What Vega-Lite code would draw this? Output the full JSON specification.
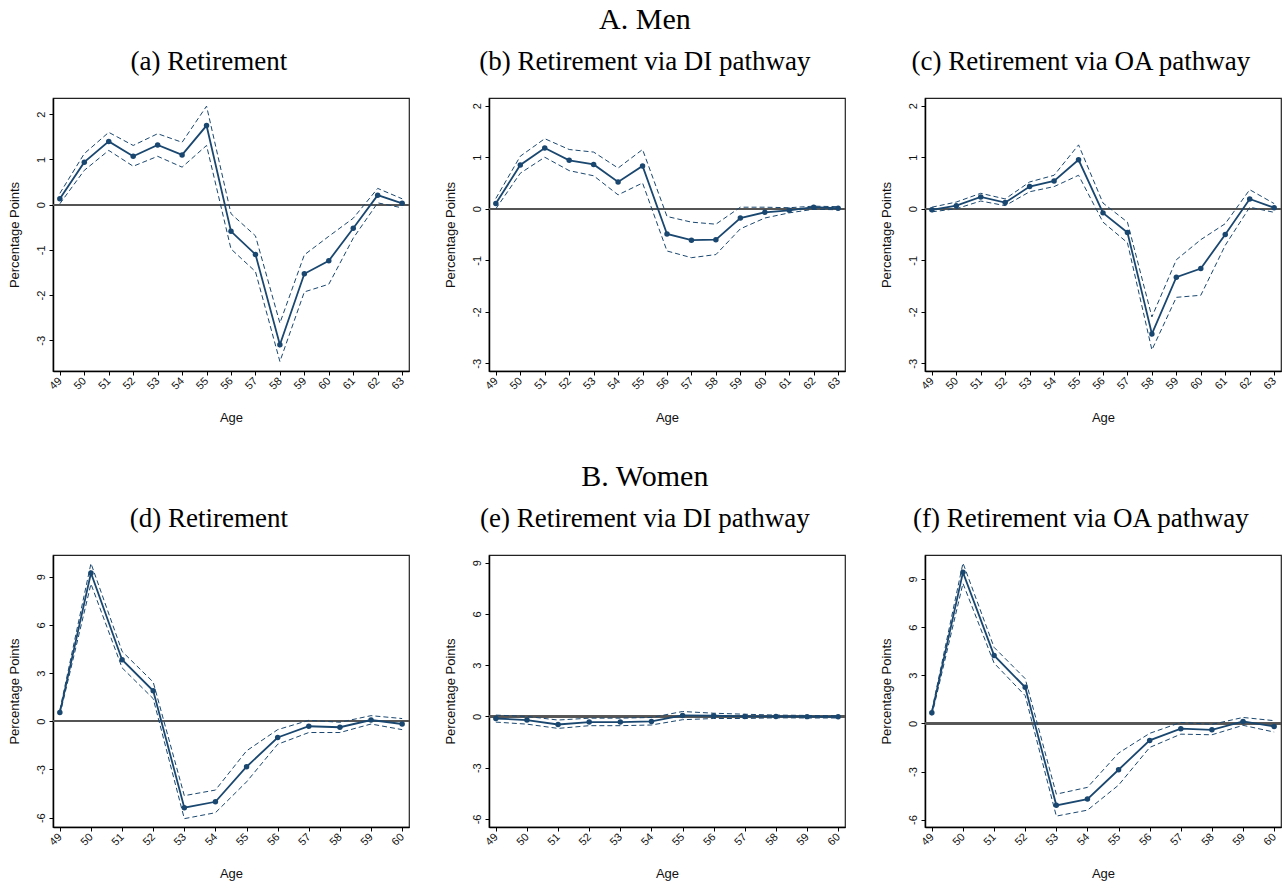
{
  "$schema": "https://vega.github.io/schema/vega-lite/v6.json",
  "background": "white",
  "padding": {"left": 7, "top": 5, "right": 5, "bottom": 5},
  "datasets": {
    "d": [
      {"p": "a", "age": 49, "est": 0.13, "lo": 0.02, "hi": 0.25},
      {"p": "a", "age": 50, "est": 0.94, "lo": 0.76, "hi": 1.13},
      {"p": "a", "age": 51, "est": 1.40, "lo": 1.20, "hi": 1.60},
      {"p": "a", "age": 52, "est": 1.07, "lo": 0.85, "hi": 1.31},
      {"p": "a", "age": 53, "est": 1.32, "lo": 1.07, "hi": 1.57},
      {"p": "a", "age": 54, "est": 1.10, "lo": 0.83, "hi": 1.38},
      {"p": "a", "age": 55, "est": 1.75, "lo": 1.31, "hi": 2.18},
      {"p": "a", "age": 56, "est": -0.59, "lo": -0.98, "hi": -0.20},
      {"p": "a", "age": 57, "est": -1.10, "lo": -1.48, "hi": -0.69},
      {"p": "a", "age": 58, "est": -3.10, "lo": -3.47, "hi": -2.62},
      {"p": "a", "age": 59, "est": -1.53, "lo": -1.93, "hi": -1.11},
      {"p": "a", "age": 60, "est": -1.24, "lo": -1.76, "hi": -0.70},
      {"p": "a", "age": 61, "est": -0.52, "lo": -0.74, "hi": -0.30},
      {"p": "a", "age": 62, "est": 0.21, "lo": 0.04, "hi": 0.36},
      {"p": "a", "age": 63, "est": 0.03, "lo": -0.07, "hi": 0.13},
      {"p": "b", "age": 49, "est": 0.10, "lo": 0.00, "hi": 0.20},
      {"p": "b", "age": 50, "est": 0.85, "lo": 0.69, "hi": 1.02},
      {"p": "b", "age": 51, "est": 1.18, "lo": 1.00, "hi": 1.36},
      {"p": "b", "age": 52, "est": 0.94, "lo": 0.74, "hi": 1.15},
      {"p": "b", "age": 53, "est": 0.86, "lo": 0.64, "hi": 1.10},
      {"p": "b", "age": 54, "est": 0.52, "lo": 0.27, "hi": 0.79},
      {"p": "b", "age": 55, "est": 0.83, "lo": 0.50, "hi": 1.15},
      {"p": "b", "age": 56, "est": -0.49, "lo": -0.82, "hi": -0.15},
      {"p": "b", "age": 57, "est": -0.61, "lo": -0.95, "hi": -0.26},
      {"p": "b", "age": 58, "est": -0.60, "lo": -0.89, "hi": -0.30},
      {"p": "b", "age": 59, "est": -0.18, "lo": -0.39, "hi": 0.03},
      {"p": "b", "age": 60, "est": -0.07, "lo": -0.18, "hi": 0.03},
      {"p": "b", "age": 61, "est": -0.03, "lo": -0.08, "hi": 0.02},
      {"p": "b", "age": 62, "est": 0.03, "lo": -0.01, "hi": 0.05},
      {"p": "b", "age": 63, "est": 0.01, "lo": -0.02, "hi": 0.04},
      {"p": "c", "age": 49, "est": -0.02, "lo": -0.06, "hi": 0.03},
      {"p": "c", "age": 50, "est": 0.06, "lo": 0.00, "hi": 0.13},
      {"p": "c", "age": 51, "est": 0.23, "lo": 0.15, "hi": 0.30},
      {"p": "c", "age": 52, "est": 0.12, "lo": 0.06, "hi": 0.19},
      {"p": "c", "age": 53, "est": 0.43, "lo": 0.33, "hi": 0.52},
      {"p": "c", "age": 54, "est": 0.54, "lo": 0.43, "hi": 0.65},
      {"p": "c", "age": 55, "est": 0.95, "lo": 0.65, "hi": 1.24},
      {"p": "c", "age": 56, "est": -0.08, "lo": -0.26, "hi": 0.11},
      {"p": "c", "age": 57, "est": -0.46, "lo": -0.66, "hi": -0.26},
      {"p": "c", "age": 58, "est": -2.43, "lo": -2.74, "hi": -2.10},
      {"p": "c", "age": 59, "est": -1.33, "lo": -1.72, "hi": -0.99},
      {"p": "c", "age": 60, "est": -1.16, "lo": -1.68, "hi": -0.60},
      {"p": "c", "age": 61, "est": -0.50, "lo": -0.71, "hi": -0.29},
      {"p": "c", "age": 62, "est": 0.19, "lo": 0.03, "hi": 0.37},
      {"p": "c", "age": 63, "est": 0.02, "lo": -0.07, "hi": 0.10},
      {"p": "d", "age": 49, "est": 0.54, "lo": 0.40, "hi": 0.70},
      {"p": "d", "age": 50, "est": 9.23, "lo": 8.55, "hi": 9.83},
      {"p": "d", "age": 51, "est": 3.83, "lo": 3.33, "hi": 4.35},
      {"p": "d", "age": 52, "est": 1.90, "lo": 1.41, "hi": 2.44},
      {"p": "d", "age": 53, "est": -5.38, "lo": -6.06, "hi": -4.63},
      {"p": "d", "age": 54, "est": -5.01, "lo": -5.69, "hi": -4.28},
      {"p": "d", "age": 55, "est": -2.83, "lo": -3.77, "hi": -1.84},
      {"p": "d", "age": 56, "est": -1.01, "lo": -1.43, "hi": -0.52},
      {"p": "d", "age": 57, "est": -0.31, "lo": -0.70, "hi": 0.06},
      {"p": "d", "age": 58, "est": -0.37, "lo": -0.70, "hi": -0.06},
      {"p": "d", "age": 59, "est": 0.08, "lo": -0.17, "hi": 0.35},
      {"p": "d", "age": 60, "est": -0.17, "lo": -0.52, "hi": 0.17},
      {"p": "e", "age": 49, "est": -0.12, "lo": -0.33, "hi": 0.08},
      {"p": "e", "age": 50, "est": -0.21, "lo": -0.45, "hi": 0.00},
      {"p": "e", "age": 51, "est": -0.47, "lo": -0.70, "hi": -0.21},
      {"p": "e", "age": 52, "est": -0.33, "lo": -0.54, "hi": -0.10},
      {"p": "e", "age": 53, "est": -0.33, "lo": -0.54, "hi": -0.10},
      {"p": "e", "age": 54, "est": -0.29, "lo": -0.50, "hi": -0.06},
      {"p": "e", "age": 55, "est": 0.06, "lo": -0.19, "hi": 0.29},
      {"p": "e", "age": 56, "est": 0.04, "lo": -0.12, "hi": 0.19},
      {"p": "e", "age": 57, "est": 0.00, "lo": -0.12, "hi": 0.13},
      {"p": "e", "age": 58, "est": 0.00, "lo": -0.08, "hi": 0.08},
      {"p": "e", "age": 59, "est": -0.01, "lo": -0.09, "hi": 0.06},
      {"p": "e", "age": 60, "est": -0.02, "lo": -0.09, "hi": 0.04},
      {"p": "f", "age": 49, "est": 0.66, "lo": 0.50, "hi": 0.80},
      {"p": "f", "age": 50, "est": 9.42, "lo": 8.73, "hi": 10.00},
      {"p": "f", "age": 51, "est": 4.24, "lo": 3.76, "hi": 4.74},
      {"p": "f", "age": 52, "est": 2.25, "lo": 1.73, "hi": 2.79},
      {"p": "f", "age": 53, "est": -5.11, "lo": -5.78, "hi": -4.41},
      {"p": "f", "age": 54, "est": -4.72, "lo": -5.41, "hi": -3.99},
      {"p": "f", "age": 55, "est": -2.89, "lo": -3.85, "hi": -1.85},
      {"p": "f", "age": 56, "est": -1.06, "lo": -1.50, "hi": -0.62},
      {"p": "f", "age": 57, "est": -0.33, "lo": -0.67, "hi": 0.06},
      {"p": "f", "age": 58, "est": -0.40, "lo": -0.71, "hi": -0.06},
      {"p": "f", "age": 59, "est": 0.12, "lo": -0.12, "hi": 0.37},
      {"p": "f", "age": 60, "est": -0.19, "lo": -0.54, "hi": 0.17}
    ]
  },
  "config": {
    "font": "Liberation Sans",
    "view": {"stroke": "#222", "strokeWidth": 1.2},
    "axis": {
      "labelFont": "Liberation Sans", "labelFontSize": 11, "labelColor": "#111",
      "titleFont": "Liberation Sans", "titleFontSize": 13, "titleFontWeight": "normal", "titleColor": "#111",
      "domainColor": "#000", "domainWidth": 1.5, "tickColor": "#000", "tickSize": 4, "tickWidth": 1,
      "gridColor": "#e3e3e3", "gridWidth": 1.5, "labelPadding": 3, "labelOverlap": false, "tickCount": 30,
      "labelExpr": "'' + datum.value"
    },
    "axisX": {"grid": false, "labelAngle": -45, "labelAlign": "right", "labelBaseline": "middle", "labelPadding": 4, "titlePadding": 20, "labelBound": false, "labelFlush": false},
    "axisY": {"labelAngle": -90, "titlePadding": 14},
    "title": {"font": "Liberation Serif", "fontSize": 27, "fontWeight": "normal", "color": "#000", "offset": 22, "anchor": "middle", "frame": "bounds"}
  },
  "spacing": 37,
  "vconcat": [
    {
      "title": {"text": "A. Men", "fontSize": 30, "offset": 12, "anchor": "middle"},
      "spacing": 32,
      "hconcat": [
        {
          "title": "(a) Retirement", "width": 356, "height": 273,
          "data": {"name": "d"}, "transform": [{"filter": "datum.p === 'a'"}],
          "layer": [
            {"mark": {"type": "rule", "color": "#555", "strokeWidth": 1.5},
             "encoding": {"y": {"datum": 0, "type": "quantitative", "scale": {"domain": [-3.68, 2.36], "nice": false, "zero": false}, "axis": {"values": [-3, -2, -1, 0, 1, 2], "title": "Percentage Points", "labelExpr": "'' + datum.value"}}}},
            {"mark": {"type": "line", "color": "#1a476f", "strokeWidth": 1, "strokeDash": [5, 3]},
             "encoding": {"x": {"field": "age", "type": "quantitative", "scale": {"domain": [48.72, 63.28], "nice": false, "zero": false}, "axis": {"values": [49, 50, 51, 52, 53, 54, 55, 56, 57, 58, 59, 60, 61, 62, 63], "title": "Age", "tickCount": 30, "labelExpr": "'' + datum.value"}},
                          "y": {"field": "hi", "type": "quantitative"}}},
            {"mark": {"type": "line", "color": "#1a476f", "strokeWidth": 1, "strokeDash": [5, 3]},
             "encoding": {"x": {"field": "age", "type": "quantitative"}, "y": {"field": "lo", "type": "quantitative"}}},
            {"mark": {"type": "line", "color": "#1a476f", "strokeWidth": 1.8},
             "encoding": {"x": {"field": "age", "type": "quantitative"}, "y": {"field": "est", "type": "quantitative"}}},
            {"mark": {"type": "point", "filled": true, "color": "#1a476f", "size": 30, "opacity": 1},
             "encoding": {"x": {"field": "age", "type": "quantitative"}, "y": {"field": "est", "type": "quantitative"}}}
          ]
        },
        {
          "title": "(b) Retirement via DI pathway", "width": 356, "height": 273,
          "data": {"name": "d"}, "transform": [{"filter": "datum.p === 'b'"}],
          "layer": [
            {"mark": {"type": "rule", "color": "#555", "strokeWidth": 1.5},
             "encoding": {"y": {"datum": 0, "type": "quantitative", "scale": {"domain": [-3.15, 2.15], "nice": false, "zero": false}, "axis": {"values": [-3, -2, -1, 0, 1, 2], "title": "Percentage Points", "labelExpr": "'' + datum.value"}}}},
            {"mark": {"type": "line", "color": "#1a476f", "strokeWidth": 1, "strokeDash": [5, 3]},
             "encoding": {"x": {"field": "age", "type": "quantitative", "scale": {"domain": [48.72, 63.28], "nice": false, "zero": false}, "axis": {"values": [49, 50, 51, 52, 53, 54, 55, 56, 57, 58, 59, 60, 61, 62, 63], "title": "Age", "tickCount": 30, "labelExpr": "'' + datum.value"}},
                          "y": {"field": "hi", "type": "quantitative"}}},
            {"mark": {"type": "line", "color": "#1a476f", "strokeWidth": 1, "strokeDash": [5, 3]},
             "encoding": {"x": {"field": "age", "type": "quantitative"}, "y": {"field": "lo", "type": "quantitative"}}},
            {"mark": {"type": "line", "color": "#1a476f", "strokeWidth": 1.8},
             "encoding": {"x": {"field": "age", "type": "quantitative"}, "y": {"field": "est", "type": "quantitative"}}},
            {"mark": {"type": "point", "filled": true, "color": "#1a476f", "size": 30, "opacity": 1},
             "encoding": {"x": {"field": "age", "type": "quantitative"}, "y": {"field": "est", "type": "quantitative"}}}
          ]
        },
        {
          "title": "(c) Retirement via OA pathway", "width": 356, "height": 273,
          "data": {"name": "d"}, "transform": [{"filter": "datum.p === 'c'"}],
          "layer": [
            {"mark": {"type": "rule", "color": "#555", "strokeWidth": 1.5},
             "encoding": {"y": {"datum": 0, "type": "quantitative", "scale": {"domain": [-3.15, 2.15], "nice": false, "zero": false}, "axis": {"values": [-3, -2, -1, 0, 1, 2], "title": "Percentage Points", "labelExpr": "'' + datum.value"}}}},
            {"mark": {"type": "line", "color": "#1a476f", "strokeWidth": 1, "strokeDash": [5, 3]},
             "encoding": {"x": {"field": "age", "type": "quantitative", "scale": {"domain": [48.72, 63.28], "nice": false, "zero": false}, "axis": {"values": [49, 50, 51, 52, 53, 54, 55, 56, 57, 58, 59, 60, 61, 62, 63], "title": "Age", "tickCount": 30, "labelExpr": "'' + datum.value"}},
                          "y": {"field": "hi", "type": "quantitative"}}},
            {"mark": {"type": "line", "color": "#1a476f", "strokeWidth": 1, "strokeDash": [5, 3]},
             "encoding": {"x": {"field": "age", "type": "quantitative"}, "y": {"field": "lo", "type": "quantitative"}}},
            {"mark": {"type": "line", "color": "#1a476f", "strokeWidth": 1.8},
             "encoding": {"x": {"field": "age", "type": "quantitative"}, "y": {"field": "est", "type": "quantitative"}}},
            {"mark": {"type": "point", "filled": true, "color": "#1a476f", "size": 30, "opacity": 1},
             "encoding": {"x": {"field": "age", "type": "quantitative"}, "y": {"field": "est", "type": "quantitative"}}}
          ]
        }
      ]
    },
    {
      "title": {"text": "B. Women", "fontSize": 30, "offset": 12, "anchor": "middle"},
      "spacing": 32,
      "hconcat": [
        {
          "title": "(d) Retirement", "width": 356, "height": 272,
          "data": {"name": "d"}, "transform": [{"filter": "datum.p === 'd'"}],
          "layer": [
            {"mark": {"type": "rule", "color": "#555", "strokeWidth": 1.5},
             "encoding": {"y": {"datum": 0, "type": "quantitative", "scale": {"domain": [-6.58, 10.35], "nice": false, "zero": false}, "axis": {"values": [-6, -3, 0, 3, 6, 9], "title": "Percentage Points", "labelExpr": "'' + datum.value"}}}},
            {"mark": {"type": "line", "color": "#1a476f", "strokeWidth": 1, "strokeDash": [5, 3]},
             "encoding": {"x": {"field": "age", "type": "quantitative", "scale": {"domain": [48.78, 60.22], "nice": false, "zero": false}, "axis": {"values": [49, 50, 51, 52, 53, 54, 55, 56, 57, 58, 59, 60], "title": "Age", "tickCount": 30, "labelExpr": "'' + datum.value"}},
                          "y": {"field": "hi", "type": "quantitative"}}},
            {"mark": {"type": "line", "color": "#1a476f", "strokeWidth": 1, "strokeDash": [5, 3]},
             "encoding": {"x": {"field": "age", "type": "quantitative"}, "y": {"field": "lo", "type": "quantitative"}}},
            {"mark": {"type": "line", "color": "#1a476f", "strokeWidth": 1.8},
             "encoding": {"x": {"field": "age", "type": "quantitative"}, "y": {"field": "est", "type": "quantitative"}}},
            {"mark": {"type": "point", "filled": true, "color": "#1a476f", "size": 30, "opacity": 1},
             "encoding": {"x": {"field": "age", "type": "quantitative"}, "y": {"field": "est", "type": "quantitative"}}}
          ]
        },
        {
          "title": "(e) Retirement via DI pathway", "width": 356, "height": 272,
          "data": {"name": "d"}, "transform": [{"filter": "datum.p === 'e'"}],
          "layer": [
            {"mark": {"type": "rule", "color": "#555", "strokeWidth": 1.5},
             "encoding": {"y": {"datum": 0, "type": "quantitative", "scale": {"domain": [-6.47, 9.45], "nice": false, "zero": false}, "axis": {"values": [-6, -3, 0, 3, 6, 9], "title": "Percentage Points", "labelExpr": "'' + datum.value"}}}},
            {"mark": {"type": "line", "color": "#1a476f", "strokeWidth": 1, "strokeDash": [5, 3]},
             "encoding": {"x": {"field": "age", "type": "quantitative", "scale": {"domain": [48.78, 60.22], "nice": false, "zero": false}, "axis": {"values": [49, 50, 51, 52, 53, 54, 55, 56, 57, 58, 59, 60], "title": "Age", "tickCount": 30, "labelExpr": "'' + datum.value"}},
                          "y": {"field": "hi", "type": "quantitative"}}},
            {"mark": {"type": "line", "color": "#1a476f", "strokeWidth": 1, "strokeDash": [5, 3]},
             "encoding": {"x": {"field": "age", "type": "quantitative"}, "y": {"field": "lo", "type": "quantitative"}}},
            {"mark": {"type": "line", "color": "#1a476f", "strokeWidth": 1.8},
             "encoding": {"x": {"field": "age", "type": "quantitative"}, "y": {"field": "est", "type": "quantitative"}}},
            {"mark": {"type": "point", "filled": true, "color": "#1a476f", "size": 30, "opacity": 1},
             "encoding": {"x": {"field": "age", "type": "quantitative"}, "y": {"field": "est", "type": "quantitative"}}}
          ]
        },
        {
          "title": "(f) Retirement via OA pathway", "width": 356, "height": 272,
          "data": {"name": "d"}, "transform": [{"filter": "datum.p === 'f'"}],
          "layer": [
            {"mark": {"type": "rule", "color": "#555", "strokeWidth": 1.5},
             "encoding": {"y": {"datum": 0, "type": "quantitative", "scale": {"domain": [-6.46, 10.5], "nice": false, "zero": false}, "axis": {"values": [-6, -3, 0, 3, 6, 9], "title": "Percentage Points", "labelExpr": "'' + datum.value"}}}},
            {"mark": {"type": "line", "color": "#1a476f", "strokeWidth": 1, "strokeDash": [5, 3]},
             "encoding": {"x": {"field": "age", "type": "quantitative", "scale": {"domain": [48.78, 60.22], "nice": false, "zero": false}, "axis": {"values": [49, 50, 51, 52, 53, 54, 55, 56, 57, 58, 59, 60], "title": "Age", "tickCount": 30, "labelExpr": "'' + datum.value"}},
                          "y": {"field": "hi", "type": "quantitative"}}},
            {"mark": {"type": "line", "color": "#1a476f", "strokeWidth": 1, "strokeDash": [5, 3]},
             "encoding": {"x": {"field": "age", "type": "quantitative"}, "y": {"field": "lo", "type": "quantitative"}}},
            {"mark": {"type": "line", "color": "#1a476f", "strokeWidth": 1.8},
             "encoding": {"x": {"field": "age", "type": "quantitative"}, "y": {"field": "est", "type": "quantitative"}}},
            {"mark": {"type": "point", "filled": true, "color": "#1a476f", "size": 30, "opacity": 1},
             "encoding": {"x": {"field": "age", "type": "quantitative"}, "y": {"field": "est", "type": "quantitative"}}}
          ]
        }
      ]
    }
  ]
}
